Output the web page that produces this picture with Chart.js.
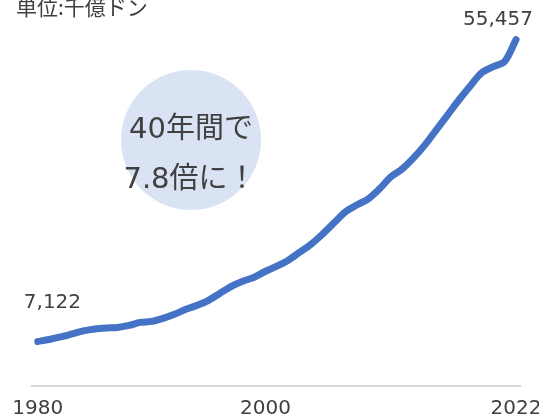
<!DOCTYPE html>
<html>
<head>
<meta charset="utf-8">
<script src="https://cdn.jsdelivr.net/npm/chart.js@4"></script>
<style>
  html, body { margin: 0; padding: 0; background: #fff; overflow: hidden; }
  #wrap { width: 539px; height: 416px; overflow: hidden; }
</style>
</head>
<body>
<div id="wrap"><canvas id="gdpChart" width="560" height="431"></canvas></div>
<script>
// GDP (unit: 千億ドン)
const years = [
  1980, 1981, 1982, 1983, 1984, 1985, 1986, 1987, 1988, 1989,
  1990, 1991, 1992, 1993, 1994, 1995, 1996, 1997, 1998, 1999,
  2000, 2001, 2002, 2003, 2004, 2005, 2006, 2007, 2008, 2009,
  2010, 2011, 2012, 2013, 2014, 2015, 2016, 2017, 2018, 2019,
  2020, 2021, 2022
];
const gdp = [
  7122, 7450, 7850, 8330, 8820, 9140, 9300, 9380, 9700, 10180,
  10340, 10820, 11470, 12270, 12910, 13720, 14840, 15960, 16770, 17410,
  18370, 19180, 20140, 21420, 22710, 24300, 26080, 27850, 28970, 29930,
  31540, 33470, 34750, 36520, 38610, 41020, 43420, 45830, 48080, 50170,
  51130, 51940, 55457
];
const shownYears = [1980, 2000, 2022];
const unitLabel = '単位:千億ドン';
const bubbleLines = ['40年間で', '7.8倍に！'];

const textColor = '#404040';
const lineColor = '#4472C4';

const decorPlugin = {
  id: 'decor',
  beforeDatasetsDraw(chart) {
    const ctx = chart.ctx;
    ctx.save();
    // light bubble behind the caption
    ctx.fillStyle = '#DAE3F3';
    ctx.beginPath();
    ctx.arc(191, 140, 70, 0, Math.PI * 2);
    ctx.fill();
    ctx.fillStyle = textColor;
    ctx.font = '29px "DejaVu Sans", "Noto Sans CJK JP", sans-serif';
    ctx.textAlign = 'center';
    ctx.textBaseline = 'middle';
    ctx.fillText(bubbleLines[0], 191, 130);
    ctx.fillText(bubbleLines[1], 190, 180);
    ctx.restore();
  },
  afterDatasetsDraw(chart) {
    const ctx = chart.ctx;
    const pts = chart.getDatasetMeta(0).data;
    const first = pts[0];
    const last = pts[pts.length - 1];
    ctx.save();
    ctx.fillStyle = textColor;
    ctx.textBaseline = 'middle';
    ctx.font = '20px "DejaVu Sans", sans-serif';
    ctx.textAlign = 'left';
    ctx.fillText(gdp[0].toLocaleString('en-US'), first.x - 14, first.y - 39);
    ctx.textAlign = 'right';
    ctx.fillText(gdp[gdp.length - 1].toLocaleString('en-US'), last.x + 17, last.y - 20);
    // unit caption, top left (cut by the top edge as in the source)
    ctx.textAlign = 'left';
    ctx.font = '21px "Noto Sans CJK JP", sans-serif';
    ctx.fillText(unitLabel, 16, 7);
    ctx.restore();
  }
};

new Chart(document.getElementById('gdpChart'), {
  type: 'line',
  data: {
    datasets: [{
      data: years.map((y, i) => ({ x: y, y: gdp[i] })),
      borderColor: lineColor,
      borderWidth: 7,
      borderCapStyle: 'round',
      borderJoinStyle: 'round',
      pointRadius: 0,
      tension: 0.3,
      fill: false
    }]
  },
  options: {
    responsive: false,
    animation: false,
    layout: { padding: { left: 30, right: 40, top: 0, bottom: 0 } },
    plugins: {
      legend: { display: false },
      tooltip: { enabled: false }
    },
    scales: {
      x: {
        type: 'linear',
        min: 1979.48,
        max: 2022.35,
        afterBuildTicks: axis => {
          axis.ticks = shownYears.map(v => ({ value: v }));
        },
        grid: { display: false, drawTicks: false },
        border: { display: true, color: '#D9D9D9', width: 2 },
        ticks: {
          padding: 12,
          color: textColor,
          maxRotation: 0,
          autoSkip: false,
          font: { family: 'DejaVu Sans', size: 20, lineHeight: 1.05 },
          callback: v => String(v)
        }
      },
      y: {
        display: false,
        min: 0,
        max: 61800
      }
    }
  },
  plugins: [decorPlugin]
});
</script>
</body>
</html>
